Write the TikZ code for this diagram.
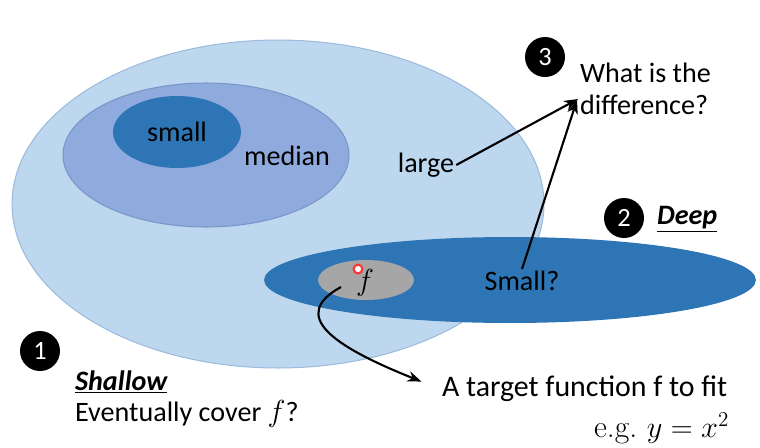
\documentclass[tikz,border=0pt]{standalone}
\usepackage{fontspec}
\setmainfont{Carlito}
\newfontfamily\egfont{Latin Modern Roman}
\usetikzlibrary{arrows.meta,shapes.geometric}
\definecolor{lightb}{HTML}{BDD7EE}
\definecolor{lightbd}{HTML}{9CBBDD}
\definecolor{medb}{HTML}{8FAADC}
\definecolor{medbd}{HTML}{7A96C8}
\definecolor{darkb}{HTML}{2E75B6}
\definecolor{grayf}{HTML}{A6A6A6}
\begin{document}
\begin{tikzpicture}[x=0.02cm,y=-0.02cm,
  lbl/.style={font=\fontsize{16}{19}\selectfont, text=black, inner sep=1pt},
  numc/.style={circle, fill=black, text=white, minimum size=0.8cm, inner sep=0pt, font=\fontsize{15}{18}\selectfont},
  ell/.style={ellipse, inner sep=0pt},
  arr/.style={-{Stealth[length=8pt,width=6pt]}, line width=1.2pt, black}]
\useasboundingbox (0,0) rectangle (760,447);
% ellipses
\node[ell, draw=lightbd, fill=lightb, line width=0.6pt, minimum width=10.64cm, minimum height=6.56cm] (shallow) at (278,204) {};
\node[ell, draw=medbd, fill=medb, line width=0.6pt, minimum width=5.72cm, minimum height=2.88cm] (median) at (206,155) {};
\node[ell, fill=darkb, minimum width=2.56cm, minimum height=1.44cm] (small) at (177,132) {};
\node[ell, fill=darkb, minimum width=9.84cm, minimum height=1.72cm] (deep) at (510,280) {};
\node[ell, fill=grayf, minimum width=1.92cm, minimum height=0.8cm] (target) at (366,280) {};
% labels in ellipses
\node[lbl] (tsmall) at (177,132) {small};
\node[lbl] (tmedian) at (287,156) {median};
\node[lbl] (tlarge) at (426,165) {large};
\node[lbl] (tsmallq) at (522,281) {Small?};
\node[lbl, font=\fontsize{17}{19}\selectfont] (tf) at (365,283) {$f$};
% pointer dot
\node[circle, draw=red!80, line width=1.2pt, fill=white, minimum size=5pt, inner sep=0pt] (dot) at (358,269) {};
% numbered circles
\node[numc] (n3) at (545,57) {3};
\node[numc] (n2) at (624,218) {2};
\node[numc] (n1) at (40,351) {1};
% texts
\node[lbl, anchor=west, align=left] (q) at (578,89) {What is the\\[-1pt]difference?};
\node[lbl, anchor=west, font=\fontsize{16}{19}\selectfont\bfseries\itshape] (tdeep) at (655,219) {\underline{Deep}};
\node[lbl, anchor=west, font=\fontsize{16}{19}\selectfont\bfseries\itshape] (tshallow) at (73,382) {\underline{Shallow}};
\node[lbl, anchor=west] (tcover) at (73,414) {Eventually cover $f$?};
\node[lbl, anchor=west, font=\fontsize{17}{20}\selectfont] (ttarget) at (440,389) {A target function f to fit};
\node[lbl, anchor=west, font=\fontsize{18}{20}\selectfont] (teg) at (592,428) {{\egfont e.g.} $y=x^2$};
% arrows
\draw[arr] (tlarge.east) -- (q.west |- 0,99);
\draw[arr] (tsmallq.north) -- (577,100);
\draw[arr, shorten >=0.4cm] (341,287) .. controls (290,315) and (330,345) .. (ttarget.west);
\end{tikzpicture}
\end{document}
